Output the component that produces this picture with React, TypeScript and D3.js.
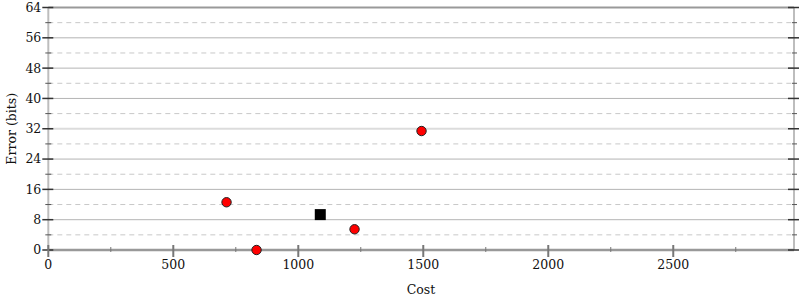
import React from "react";
import * as d3 from "d3";

const costs = [713, 833, 1225, 1493];
const errors = [12.6, 0, 5.47, 31.4];
const squareCost = [1088];
const squareError = [9.34];
const xTicks = [0, 500, 1000, 1500, 2000, 2500];
const xMinorTicks = [250, 750, 1250, 1750, 2250, 2750];
const yTicks = [0, 8, 16, 24, 32, 40, 48, 56, 64];
const yMinorTicks = [4, 12, 20, 28, 36, 44, 52, 60];

const W = 800, H = 300;
const L = 48.3, R = 794, T = 7.5, B = 250;

export default function App() {
  const x = d3.scaleLinear().domain([0, 2983]).range([L, R]);
  const y = d3.scaleLinear().domain([0, 64]).range([B, T]);
  const font = "DejaVu Serif";
  return (
    <svg width={W} height={H} style={{ position: "absolute", left: 0, top: 0 }} fontFamily={font} fontSize={12.5}>
      <rect width={W} height={H} fill="#fff" />
      {yMinorTicks.map((v) => (
        <line key={"dg" + v} x1={L} x2={R} y1={y(v)} y2={y(v)} stroke="#c8c8c8" strokeDasharray="5,4" />
      ))}
      {yTicks.filter((v) => v > 0 && v < 64).map((v) => (
        <line key={"g" + v} x1={L} x2={R} y1={y(v)} y2={y(v)}
          stroke={v === 32 ? "#dcdcdc" : "#b4b4b4"} strokeWidth={v === 32 ? 2 : 1} />
      ))}
      {/* frame */}
      <line x1={L} x2={L} y1={T} y2={B} stroke="#bdbdbd" strokeWidth={2} />
      <line x1={R} x2={R} y1={T} y2={B} stroke="#bdbdbd" strokeWidth={2} />
      <line x1={L} x2={R} y1={T} y2={T} stroke="#999" strokeWidth={2} />
      <line x1={L} x2={R} y1={B} y2={B} stroke="#999" strokeWidth={2.5} />
      {/* y ticks */}
      {yTicks.map((v) => (
        <g key={"yt" + v}>
          <line x1={L - 6} x2={L + 5} y1={y(v)} y2={y(v)} stroke="#333" strokeWidth={1.5} />
          <line x1={R - 6} x2={R + 5} y1={y(v)} y2={y(v)} stroke="#333" strokeWidth={1.5} />
          <text x={L - 7} y={y(v)} dy="0.35em" textAnchor="end" fill="#111">{v}</text>
        </g>
      ))}
      {yMinorTicks.map((v) => (
        <g key={"ym" + v}>
          <line x1={L - 3} x2={L + 3} y1={y(v)} y2={y(v)} stroke="#555" strokeWidth={1} />
          <line x1={R - 2} x2={R + 3} y1={y(v)} y2={y(v)} stroke="#555" strokeWidth={1} />
        </g>
      ))}
      {/* x ticks */}
      {xTicks.map((v) => (
        <g key={"xt" + v}>
          <line x1={x(v)} x2={x(v)} y1={B - 5} y2={B + 7} stroke="#777" strokeWidth={2} />
          <text x={x(v)} y={B + 15} dy="0.35em" textAnchor="middle" fill="#111">{v}</text>
        </g>
      ))}
      {xMinorTicks.map((v) => (
        <line key={"xm" + v} x1={x(v)} x2={x(v)} y1={B - 3} y2={B + 2} stroke="#777" strokeWidth={1} />
      ))}
      {/* data */}
      {squareCost.map((c, i) => (
        <rect key={"sq" + i} x={x(c) - 5.5} y={y(squareError[i]) - 5.5} width={11} height={11} fill="#000" />
      ))}
      {costs.map((c, i) => (
        <circle key={"pt" + i} cx={x(c)} cy={y(errors[i])} r={4.7} fill="#f00" stroke="#222" strokeWidth={1} />
      ))}
      <text x={421} y={290} dy="0.35em" textAnchor="middle" fill="#111">Cost</text>
      <text transform={`translate(12,${(T + B) / 2}) rotate(-90)`} dy="0.35em" textAnchor="middle" fill="#111">Error (bits)</text>
    </svg>
  );
}
